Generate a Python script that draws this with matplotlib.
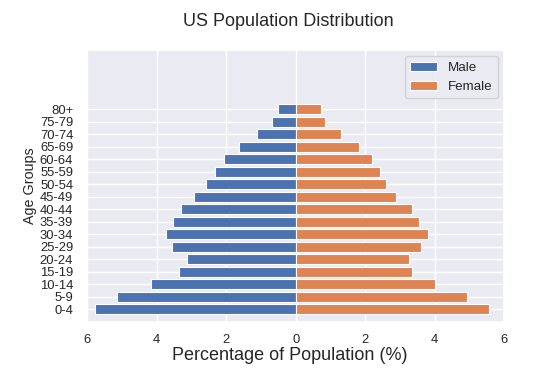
import matplotlib
matplotlib.use('Agg')
import matplotlib.pyplot as plt
import seaborn as sns
from matplotlib.ticker import FuncFormatter

sns.set_theme(style='darkgrid')
plt.rcParams['font.family'] = ['Liberation Sans', 'DejaVu Sans']

# data (percent of population), bottom to top
age_groups = ['0-4', '5-9', '10-14', '15-19', '20-24', '25-29', '30-34', '35-39',
              '40-44', '45-49', '50-54', '55-59', '60-64', '65-69', '70-74',
              '75-79', '80+']
male = [5.76, 5.14, 4.17, 3.35, 3.13, 3.56, 3.74, 3.52,
        3.31, 2.92, 2.59, 2.31, 2.06, 1.62, 1.12, 0.68, 0.51]
female = [5.57, 4.94, 4.00, 3.35, 3.27, 3.60, 3.82, 3.56,
          3.35, 2.90, 2.61, 2.43, 2.21, 1.82, 1.30, 0.83, 0.72]

fig, ax = plt.subplots(figsize=(5.41, 3.75), dpi=100)
fig.subplots_adjust(left=0.161, right=0.932, top=0.868, bottom=0.141)

y = range(len(age_groups))
ax.barh(y, [-m for m in male], height=0.8, color='#4C72B0',
        edgecolor='white', linewidth=0.8, label='Male')
ax.barh(y, female, height=0.8, color='#DD8452',
        edgecolor='white', linewidth=0.8, label='Female')

ax.set_xlim(-6, 6)
ax.set_ylim(-1.05, 20.8)
ax.set_xticks([-6, -4, -2, 0, 2, 4, 6])
ax.xaxis.set_major_formatter(FuncFormatter(lambda v, p: f'{abs(v):.0f}'))
ax.set_yticks(list(y))
ax.set_yticklabels(age_groups)
ax.tick_params(axis='both', labelsize=9.4, length=0, colors='0.15')
ax.tick_params(axis='y', pad=10)
ax.tick_params(axis='x', pad=8.5)

ax.set_xlabel('Percentage of Population (%)', fontsize=13, color='0.15',
              labelpad=0.5, x=0.486)
ax.set_ylabel('Age Groups', fontsize=10.3, color='0.15', labelpad=2)
ax.set_title('US Population Distribution', fontsize=13, color='0.15',
             pad=17, x=0.483)
ax.legend(loc='upper right', fontsize=9.6)

fig.savefig('out.png', dpi=100)
